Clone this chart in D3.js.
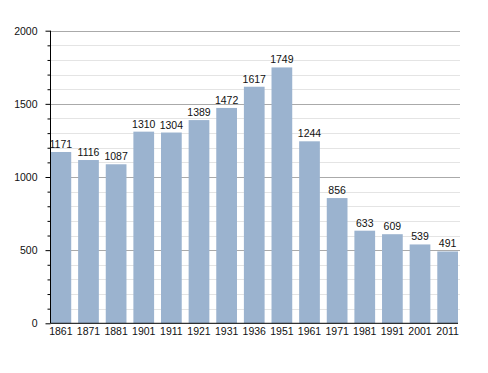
<!DOCTYPE html>
<html>
  <head>
    <meta charset="UTF-8" />
    <style>
      body {
        margin: 0;
        background: #fff;
        font-family: "Liberation Sans", Arial, sans-serif;
      }
    </style>
  </head>
  <body>
    <svg></svg>
    <script src="https://d3js.org/d3.v7.min.js"></script>
    <script>
      let width = 488,
        height = 373;

      // Data
      let years = ["1861", "1871", "1881", "1901", "1911", "1921", "1931", "1936",
        "1951", "1961", "1971", "1981", "1991", "2001", "2011"];
      let population = [1171, 1116, 1087, 1310, 1304, 1389, 1472, 1617,
        1749, 1244, 856, 633, 609, 539, 491];
      let majorTicks = [0, 500, 1000, 1500, 2000];

      let margin = { left: 50.5, right: 30, top: 31, bottom: 50 };
      let fontSize = 10.5;

      let svg = d3.select("svg").attr("width", width).attr("height", height);

      let x = d3
        .scaleBand()
        .domain(years)
        .range([margin.left, 458])
        .paddingInner(0.25)
        .paddingOuter(0);

      let y = d3.scaleLinear().domain([0, 2000]).range([323.3, 30.7]);

      //Minor gridlines
      svg
        .append("g")
        .selectAll("line")
        .data(d3.range(100, 2001, 100).filter((d) => d % 500 != 0))
        .enter()
        .append("line")
        .attr("x1", margin.left)
        .attr("x2", 460)
        .attr("y1", (d) => Math.round(y(d)) + 0.5)
        .attr("y2", (d) => Math.round(y(d)) + 0.5)
        .attr("stroke", "#e4e4e4");

      //Major gridlines
      svg
        .append("g")
        .selectAll("line")
        .data(majorTicks.slice(1))
        .enter()
        .append("line")
        .attr("x1", margin.left)
        .attr("x2", 460)
        .attr("y1", (d) => Math.round(y(d)) + 0.5)
        .attr("y2", (d) => Math.round(y(d)) + 0.5)
        .attr("stroke", "#aaaaaa");

      //Bars
      svg
        .append("g")
        .selectAll("rect")
        .data(population)
        .enter()
        .append("rect")
        .attr("x", (d, i) => x(years[i]))
        .attr("width", x.bandwidth())
        .attr("y", (d) => y(d))
        .attr("height", (d) => y(0) - y(d))
        .attr("fill", "#9bb3cf");

      //Value labels
      svg
        .append("g")
        .selectAll("text")
        .data(population)
        .enter()
        .append("text")
        .attr("x", (d, i) => x(years[i]) + x.bandwidth() / 2)
        .attr("y", (d) => y(d) - 4)
        .attr("text-anchor", "middle")
        .attr("font-size", fontSize)
        .attr("fill", "#111")
        .text((d) => d);

      //Y axis
      let yAxis = svg
        .append("g")
        .attr("transform", "translate(" + margin.left + ",0)")
        .call(
          d3.axisLeft(y).tickValues(d3.range(0, 2001, 100)).tickSize(3)
            .tickFormat((d) => (d % 500 == 0 ? d : ""))
        );
      yAxis.select(".domain").attr("stroke", "#000").attr("d", "M0," + y(0) + "V" + y(2000));
      yAxis.selectAll(".tick line")
        .attr("x2", (d) => (d % 500 == 0 ? -5 : -3))
        .attr("stroke", "#000");
      yAxis.selectAll(".tick text")
        .attr("x", -13)
        .attr("font-size", fontSize)
        .attr("font-family", "Liberation Sans, Arial, sans-serif")
        .attr("fill", "#111");

      //X axis
      let xAxis = svg
        .append("g")
        .attr("transform", "translate(0," + y(0) + ")")
        .call(d3.axisBottom(x).tickSize(0).tickPadding(4));
      xAxis.select(".domain").attr("stroke", "#000").attr("d", "M" + margin.left + ",0H458");
      xAxis.selectAll(".tick text")
        .attr("font-size", fontSize)
        .attr("font-family", "Liberation Sans, Arial, sans-serif")
        .attr("fill", "#111");
    </script>
  </body>
</html>
